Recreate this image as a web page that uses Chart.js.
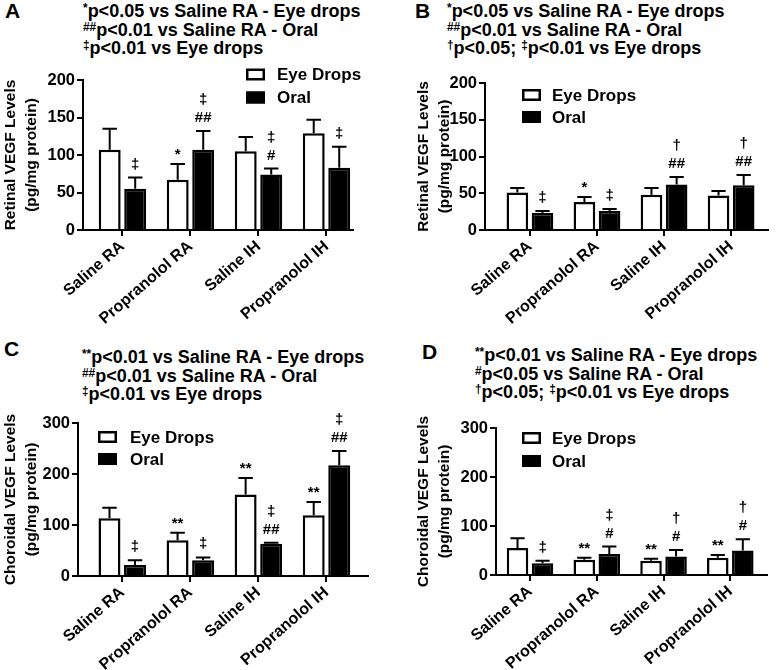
<!DOCTYPE html>
<html><head><meta charset="utf-8">
<script src="https://cdn.jsdelivr.net/npm/chart.js@4.4.0/dist/chart.umd.min.js"></script>
<style>
html,body{margin:0;padding:0;background:#fff;}
body{width:777px;height:670px;position:relative;overflow:hidden;font-family:"Liberation Sans",Arial,sans-serif;color:#000;}
canvas{position:absolute;}
.letter{position:absolute;font-weight:bold;font-size:21px;line-height:21px;}
.note{position:absolute;font-weight:bold;font-size:18px;line-height:18.5px;white-space:nowrap;}
.note sup{font-size:0.66em;vertical-align:0.45em;line-height:0;}
</style></head><body>
<div class="letter" style="left:5px;top:0px">A</div>
<div class="note" style="left:83px;top:2px"><sup>*</sup>p&lt;0.05 vs Saline RA - Eye drops<br><sup>##</sup>p&lt;0.01 vs Saline RA - Oral<br><sup>‡</sup>p&lt;0.01 vs Eye drops</div>
<div class="letter" style="left:415px;top:0px">B</div>
<div class="note" style="left:447px;top:2px"><sup>*</sup>p&lt;0.05 vs Saline RA - Eye drops<br><sup>##</sup>p&lt;0.01 vs Saline RA - Oral<br><sup>†</sup>p&lt;0.05; <sup>‡</sup>p&lt;0.01 vs Eye drops</div>
<div class="letter" style="left:4px;top:338px">C</div>
<div class="note" style="left:82px;top:348px"><sup>**</sup>p&lt;0.01 vs Saline RA - Eye drops<br><sup>##</sup>p&lt;0.01 vs Saline RA - Oral<br><sup>‡</sup>p&lt;0.01 vs Eye drops</div>
<div class="letter" style="left:422px;top:341px">D</div>
<div class="note" style="left:475px;top:346px"><sup>**</sup>p&lt;0.01 vs Saline RA - Eye drops<br><sup>#</sup>p&lt;0.05 vs Saline RA - Oral<br><sup>†</sup>p&lt;0.05; <sup>‡</sup>p&lt;0.01 vs Eye drops</div>

<canvas id="cA" width="390" height="335" style="left:0;top:0"></canvas>
<canvas id="cB" width="387" height="335" style="left:390px;top:0"></canvas>
<canvas id="cC" width="390" height="335" style="left:0;top:335px"></canvas>
<canvas id="cD" width="387" height="335" style="left:390px;top:335px"></canvas>

<script>
// ---- data ----
const categories = ["Saline RA", "Propranolol RA", "Saline IH", "Propranolol IH"];
const seriesNames = ["Eye Drops", "Oral"];

// A: Retinal VEGF (Eye drops vs Oral)
const retinalA_eye = [107, 67, 105, 129];
const retinalA_eyeSEM = [28, 21, 19, 18];
const retinalA_oral = [55, 107, 74, 83];
const retinalA_oralSEM = [15, 25, 8, 28];
const retinalA_eyeMarks = ["", "*", "", ""];
const retinalA_oralMarks = ["‡", "‡|##", "‡|#", "‡"];

// B: Retinal VEGF
const retinalB_eye = [51, 38, 48, 47];
const retinalB_eyeSEM = [6, 7, 9, 6];
const retinalB_oral = [23, 26, 62, 61];
const retinalB_oralSEM = [3, 2.5, 10, 14];
const retinalB_eyeMarks = ["", "*", "", ""];
const retinalB_oralMarks = ["‡", "‡", "†|##", "†|##"];

// C: Choroidal VEGF
const choroidC_eye = [113, 70, 160, 119];
const choroidC_eyeSEM = [21, 15, 32, 26];
const choroidC_oral = [21.5, 31, 63, 217];
const choroidC_oralSEM = [9.5, 5.5, 2, 28];
const choroidC_eyeMarks = ["", "**", "**", "**"];
const choroidC_oralMarks = ["‡", "‡", "‡|##", "‡|##"];

// D: Choroidal VEGF
const choroidD_eye = [55, 31, 29, 35];
const choroidD_eyeSEM = [20, 4, 4, 6];
const choroidD_oral = [24, 43, 38, 50];
const choroidD_oralSEM = [5, 15, 13, 23];
const choroidD_eyeMarks = ["", "**", "**", "**"];
const choroidD_oralMarks = ["‡", "‡|#", "†|#", "†|#"];

const retinalTitle = ["Retinal VEGF Levels", "(pg/mg protein)"];
const choroidTitle = ["Choroidal VEGF Levels", "(pg/mg protein)"];

// ---- drawing ----
Chart.defaults.font.family = '"Liberation Sans", Arial, sans-serif';
Chart.defaults.color = '#000';

const extras = {
  id: 'extras',
  afterDatasetsDraw(chart, args, opts) {
    const ctx = chart.ctx;
    const ys = chart.scales.y;
    ctx.save();
    chart.data.datasets.forEach((ds, di) => {
      const meta = chart.getDatasetMeta(di);
      meta.data.forEach((bar, i) => {
        const v = ds.data[i].y;
        const yv = ys.getPixelForValue(v);
        const yTop = ys.getPixelForValue(v + ds.sem[i]);
        const half = bar.width * 0.33;
        ctx.strokeStyle = '#000';
        ctx.lineWidth = 2;
        ctx.beginPath();
        ctx.moveTo(bar.x, yv); ctx.lineTo(bar.x, yTop);
        ctx.moveTo(bar.x - half, yTop); ctx.lineTo(bar.x + half, yTop);
        ctx.stroke();
        const m = ds.marks[i];
        if (m) {
          const lines = m.split('|');
          ctx.fillStyle = '#000';
          ctx.textAlign = 'center';
          ctx.textBaseline = 'alphabetic';
          ctx.font = 'bold 15px "Liberation Sans", Arial, sans-serif';
          for (let k = lines.length - 1, n = 0; k >= 0; k--, n++) {
            const t = lines[k];
            const isStar = t.indexOf('*') >= 0;
            const base = yTop - (isStar ? 5 : 9) - n * 18;
            ctx.fillText(t, bar.x, base);
          }
        }
      });
    });
    // legend
    const lg = opts.legend;
    ctx.font = 'bold 17px "Liberation Sans", Arial, sans-serif';
    ctx.textAlign = 'left';
    ctx.textBaseline = 'middle';
    chart.data.datasets.forEach((ds, di) => {
      const cy = lg.y + di * lg.gap;
      ctx.fillStyle = ds.backgroundColor;
      ctx.fillRect(lg.x, cy - 6, 19, 12);
      ctx.strokeStyle = '#000';
      ctx.lineWidth = 2.5;
      ctx.strokeRect(lg.x + 1.25, cy - 4.75, 16.5, 9.5);
      ctx.fillStyle = '#000';
      ctx.fillText(ds.label, lg.tx, cy + 1);
    });
    ctx.restore();
  }
};

function makeChart(id, c) {
  const tickFont = {size: 16.5, weight: 'bold'};
  return new Chart(document.getElementById(id), {
    type: 'bar',
    data: {
      datasets: [
        {label: seriesNames[0], data: categories.map((k, i) => ({x: i, y: c.eye[i]})), sem: c.eyeSem, marks: c.eyeMarks,
         backgroundColor: '#ffffff', borderColor: '#000', borderWidth: 2.5, borderSkipped: 'bottom',
         barPercentage: 0.86, categoryPercentage: 0.75},
        {label: seriesNames[1], data: categories.map((k, i) => ({x: i, y: c.oral[i]})), sem: c.oralSem, marks: c.oralMarks,
         backgroundColor: '#000000', borderColor: '#000', borderWidth: 2.5, borderSkipped: 'bottom',
         barPercentage: 0.86, categoryPercentage: 0.75}
      ]
    },
    options: {
      responsive: false, animation: false, devicePixelRatio: 1,
      layout: {padding: c.pad},
      plugins: {legend: {display: false}, tooltip: {enabled: false}, extras: {legend: c.legend}},
      scales: {
        x: {
          type: 'linear', min: c.xmin, max: c.xmax, offset: false,
          afterBuildTicks: s => { s.ticks = categories.map((k, i) => ({value: i})); },
          afterFit: s => { s.height = c.xH; },
          ticks: {callback: v => categories[v], minRotation: 41, maxRotation: 41, autoSkip: false,
                  font: {size: 16, weight: 'bold'}, color: '#000', padding: 1},
          grid: {offset: false, drawOnChartArea: false, drawTicks: true, tickLength: 6, color: '#000', lineWidth: 2},
          border: {display: true, color: '#000', width: 2}
        },
        y: {
          min: 0, max: c.ymax,
          afterFit: s => { s.width = c.yW; },
          ticks: {stepSize: c.step, font: tickFont, color: '#000', padding: 2},
          grid: {drawOnChartArea: false, drawTicks: true, tickLength: 6, color: '#000', lineWidth: 2},
          border: {display: true, color: '#000', width: 2},
          title: {display: true, text: c.title, color: '#000', font: {size: 15.5, weight: 'bold', lineHeight: 1.3}, padding: {top: 1, bottom: 0}}
        }
      }
    },
    plugins: [extras]
  });
}

makeChart('cA', {eye: retinalA_eye, eyeSem: retinalA_eyeSEM, oral: retinalA_oral, oralSem: retinalA_oralSEM,
  eyeMarks: retinalA_eyeMarks, oralMarks: retinalA_oralMarks, title: retinalTitle, ymax: 200, step: 50,
  pad: {left: 0, top: 80, right: 37, bottom: 0}, yW: 83, xH: 105, xmin: -0.58, xmax: 3.39,
  legend: {x: 246, tx: 277, y: 74.5, gap: 23}});
makeChart('cB', {eye: retinalB_eye, eyeSem: retinalB_eyeSEM, oral: retinalB_oral, oralSem: retinalB_oralSEM,
  eyeMarks: retinalB_eyeMarks, oralMarks: retinalB_oralMarks, title: retinalTitle, ymax: 200, step: 50,
  pad: {left: 23, top: 83, right: 9, bottom: 0}, yW: 72, xH: 105, xmin: -0.67, xmax: 3.55,
  legend: {x: 132, tx: 162, y: 95, gap: 22}});
makeChart('cC', {eye: choroidC_eye, eyeSem: choroidC_eyeSEM, oral: choroidC_oral, oralSem: choroidC_oralSEM,
  eyeMarks: choroidC_eyeMarks, oralMarks: choroidC_oralMarks, title: choroidTitle, ymax: 300, step: 100,
  pad: {left: 0, top: 88, right: 22, bottom: 0}, yW: 78, xH: 94, xmin: -0.65, xmax: 3.61,
  legend: {x: 98, tx: 130, y: 102, gap: 22}});
makeChart('cD', {eye: choroidD_eye, eyeSem: choroidD_eyeSEM, oral: choroidD_oral, oralSem: choroidD_oralSEM,
  eyeMarks: choroidD_eyeMarks, oralMarks: choroidD_oralMarks, title: choroidTitle, ymax: 300, step: 100,
  pad: {left: 23, top: 93, right: 10, bottom: 0}, yW: 83, xH: 95, xmin: -0.51, xmax: 3.55,
  legend: {x: 132, tx: 162, y: 103, gap: 23}});
</script>
</body></html>
